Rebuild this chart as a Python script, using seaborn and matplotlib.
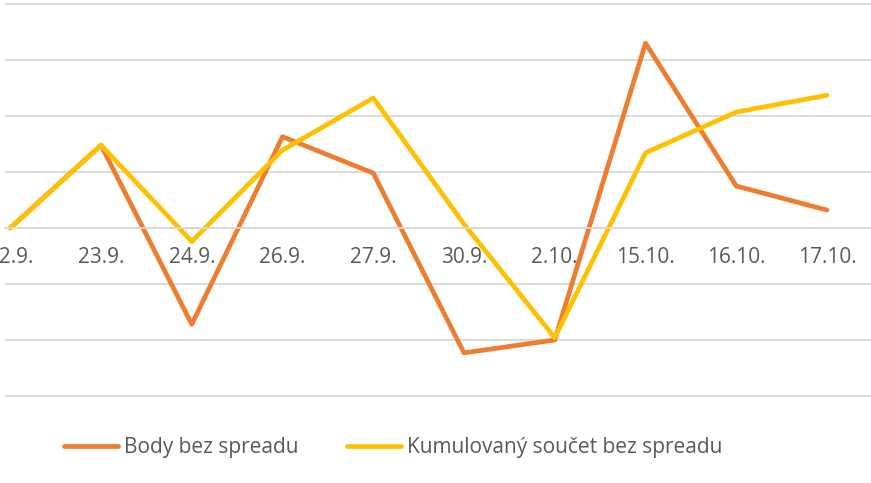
import pandas as pd
import matplotlib.pyplot as plt
import seaborn as sns

# =========================
# DATA
# =========================
dates = ["22.9.", "23.9.", "24.9.", "26.9.", "27.9.",
         "30.9.", "2.10.", "15.10.", "16.10.", "17.10."]

body = [0.0, 1.48, -1.72, 1.63, 0.98, -2.23, -2.0, 3.30, 0.75, 0.32]

kumul = [0.0, 1.48, -0.24, 1.39, 2.32, 0.07, -1.96, 1.34, 2.07, 2.37]

series_names = ["Body bez spreadu", "Kumulovaný součet bez spreadu"]

df = pd.DataFrame({
    "idx": list(range(len(dates))) * 2,
    "value": body + kumul,
    "series": [series_names[0]] * len(dates) + [series_names[1]] * len(dates),
})

# =========================
# STYLE
# =========================
sns.set_style("white")
plt.rcParams["font.family"] = ["Open Sans", "DejaVu Sans"]

grid_color = "#D9D9D9"
text_color = "#595959"
line_w = 3.4

fig = plt.figure(figsize=(8.71, 4.83), dpi=100)

# axes: px 5..871 horizontally, px 0..400 vertically
ax = fig.add_axes([5 / 871, 1 - 400 / 483, 866 / 871, 400 / 483])

sns.lineplot(
    data=df,
    x="idx",
    y="value",
    hue="series",
    palette=["#ED7D31", "#FFC000"],
    linewidth=line_w,
    ax=ax,
    legend=False,
    solid_capstyle="round",
    solid_joinstyle="round",
)

# =========================
# AXES
# =========================
ax.set_xlim(-0.058, 9.485)
ax.set_ylim(-172 / 56, 228 / 56)

ax.set_yticks(range(-3, 5))
ax.set_yticklabels([])
ax.yaxis.grid(True, color=grid_color, linewidth=1.3)
ax.tick_params(axis="y", length=0)

ax.set_xticks(range(len(dates)))
ax.set_xticklabels(dates)
ax.tick_params(axis="x", length=0, pad=13.5,
               labelsize=15, labelcolor=text_color)

for side in ["top", "left", "right"]:
    ax.spines[side].set_visible(False)
ax.spines["bottom"].set_position(("data", 0))
ax.spines["bottom"].set_color(grid_color)
ax.spines["bottom"].set_linewidth(1.3)

ax.set_xlabel("")
ax.set_ylabel("")

# =========================
# LEGEND
# =========================
handles = [
    plt.Line2D([], [], color="#ED7D31", linewidth=line_w, solid_capstyle="round"),
    plt.Line2D([], [], color="#FFC000", linewidth=line_w, solid_capstyle="round"),
]
leg = fig.legend(
    handles,
    series_names,
    loc="center",
    bbox_to_anchor=(393 / 871, 1 - 448 / 483),
    ncol=2,
    frameon=False,
    fontsize=15,
    handlelength=2.6,
    handletextpad=0.3,
    columnspacing=2.3,
)
for t in leg.get_texts():
    t.set_color(text_color)

plt.savefig("out.png", dpi=100)
plt.close()
